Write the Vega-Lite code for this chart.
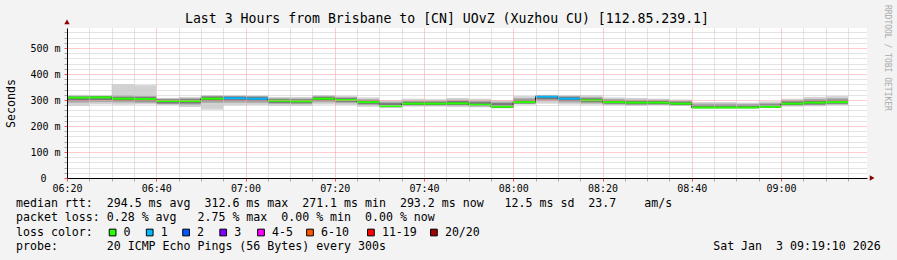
{
  "$schema": "https://vega.github.io/schema/vega-lite/v6.json",
  "width": 800,
  "height": 150,
  "autosize": {"type": "none"},
  "padding": {"left": 67, "top": 28, "right": 30, "bottom": 82},
  "background": "#f3f3f3",
  "config": {"view": {"fill": "#ffffff", "stroke": null}, "font": "DejaVu Sans Mono"},
  "resolve": {"scale": {"x": "independent", "y": "independent"}},
  "layer": [
    {
      "data": {
        "values": [
          {"s": "2026-01-03T06:20:00", "e": "2026-01-03T06:25:00", "med": 309, "loss": "0", "mn": 278, "mx": 320, "l2": 290, "h2": 316, "l3": 298, "h3": 313},
          {"s": "2026-01-03T06:25:00", "e": "2026-01-03T06:30:00", "med": 310, "loss": "0", "mn": 283, "mx": 318, "l2": 292, "h2": 316, "l3": 300, "h3": 314},
          {"s": "2026-01-03T06:30:00", "e": "2026-01-03T06:35:00", "med": 305, "loss": "0", "mn": 282, "mx": 361, "l2": 290, "h2": 318, "l3": 296, "h3": 312},
          {"s": "2026-01-03T06:35:00", "e": "2026-01-03T06:40:00", "med": 304, "loss": "0", "mn": 283, "mx": 357, "l2": 289, "h2": 316, "l3": 295, "h3": 311},
          {"s": "2026-01-03T06:40:00", "e": "2026-01-03T06:45:00", "med": 296, "loss": "0", "mn": 281, "mx": 308, "l2": 284, "h2": 305, "l3": 287, "h3": 302},
          {"s": "2026-01-03T06:45:00", "e": "2026-01-03T06:50:00", "med": 296, "loss": "0", "mn": 273, "mx": 312, "l2": 282, "h2": 307, "l3": 287, "h3": 303},
          {"s": "2026-01-03T06:50:00", "e": "2026-01-03T06:55:00", "med": 305, "loss": "0", "mn": 263, "mx": 319, "l2": 289, "h2": 316, "l3": 296, "h3": 313},
          {"s": "2026-01-03T06:55:00", "e": "2026-01-03T07:00:00", "med": 307, "loss": "1", "mn": 280, "mx": 318, "l2": 290, "h2": 316, "l3": 297, "h3": 313},
          {"s": "2026-01-03T07:00:00", "e": "2026-01-03T07:05:00", "med": 305, "loss": "1", "mn": 281, "mx": 317, "l2": 289, "h2": 315, "l3": 296, "h3": 312},
          {"s": "2026-01-03T07:05:00", "e": "2026-01-03T07:10:00", "med": 297, "loss": "0", "mn": 278, "mx": 312, "l2": 285, "h2": 307, "l3": 289, "h3": 303},
          {"s": "2026-01-03T07:10:00", "e": "2026-01-03T07:15:00", "med": 295, "loss": "0", "mn": 278, "mx": 312, "l2": 284, "h2": 306, "l3": 288, "h3": 302},
          {"s": "2026-01-03T07:15:00", "e": "2026-01-03T07:20:00", "med": 305, "loss": "0", "mn": 283, "mx": 318, "l2": 291, "h2": 316, "l3": 297, "h3": 312},
          {"s": "2026-01-03T07:20:00", "e": "2026-01-03T07:25:00", "med": 300, "loss": "0", "mn": 281, "mx": 316, "l2": 288, "h2": 311, "l3": 293, "h3": 307},
          {"s": "2026-01-03T07:25:00", "e": "2026-01-03T07:30:00", "med": 292, "loss": "0", "mn": 274, "mx": 310, "l2": 281, "h2": 303, "l3": 285, "h3": 299},
          {"s": "2026-01-03T07:30:00", "e": "2026-01-03T07:35:00", "med": 277, "loss": "0", "mn": 270, "mx": 300, "l2": 272, "h2": 293, "l3": 273, "h3": 288},
          {"s": "2026-01-03T07:35:00", "e": "2026-01-03T07:40:00", "med": 286, "loss": "0", "mn": 275, "mx": 305, "l2": 278, "h2": 297, "l3": 280, "h3": 293},
          {"s": "2026-01-03T07:40:00", "e": "2026-01-03T07:45:00", "med": 286, "loss": "0", "mn": 275, "mx": 303, "l2": 278, "h2": 297, "l3": 280, "h3": 293},
          {"s": "2026-01-03T07:45:00", "e": "2026-01-03T07:50:00", "med": 287, "loss": "0", "mn": 273, "mx": 308, "l2": 278, "h2": 301, "l3": 281, "h3": 296},
          {"s": "2026-01-03T07:50:00", "e": "2026-01-03T07:55:00", "med": 282, "loss": "0", "mn": 272, "mx": 305, "l2": 275, "h2": 297, "l3": 277, "h3": 292},
          {"s": "2026-01-03T07:55:00", "e": "2026-01-03T08:00:00", "med": 274, "loss": "0", "mn": 268, "mx": 300, "l2": 270, "h2": 293, "l3": 271, "h3": 288},
          {"s": "2026-01-03T08:00:00", "e": "2026-01-03T08:05:00", "med": 292, "loss": "0", "mn": 282, "mx": 315, "l2": 285, "h2": 307, "l3": 287, "h3": 301},
          {"s": "2026-01-03T08:05:00", "e": "2026-01-03T08:10:00", "med": 313, "loss": "1", "mn": 286, "mx": 320, "l2": 296, "h2": 319, "l3": 303, "h3": 317},
          {"s": "2026-01-03T08:10:00", "e": "2026-01-03T08:15:00", "med": 305, "loss": "1", "mn": 283, "mx": 318, "l2": 290, "h2": 315, "l3": 296, "h3": 312},
          {"s": "2026-01-03T08:15:00", "e": "2026-01-03T08:20:00", "med": 299, "loss": "0", "mn": 282, "mx": 318, "l2": 287, "h2": 311, "l3": 292, "h3": 306},
          {"s": "2026-01-03T08:20:00", "e": "2026-01-03T08:25:00", "med": 292, "loss": "0", "mn": 280, "mx": 310, "l2": 283, "h2": 304, "l3": 286, "h3": 299},
          {"s": "2026-01-03T08:25:00", "e": "2026-01-03T08:30:00", "med": 290, "loss": "0", "mn": 278, "mx": 308, "l2": 281, "h2": 301, "l3": 284, "h3": 297},
          {"s": "2026-01-03T08:30:00", "e": "2026-01-03T08:35:00", "med": 290, "loss": "0", "mn": 280, "mx": 305, "l2": 282, "h2": 301, "l3": 284, "h3": 297},
          {"s": "2026-01-03T08:35:00", "e": "2026-01-03T08:40:00", "med": 286, "loss": "0", "mn": 278, "mx": 302, "l2": 279, "h2": 297, "l3": 281, "h3": 293},
          {"s": "2026-01-03T08:40:00", "e": "2026-01-03T08:45:00", "med": 271, "loss": "0", "mn": 268, "mx": 292, "l2": 269, "h2": 286, "l3": 270, "h3": 281},
          {"s": "2026-01-03T08:45:00", "e": "2026-01-03T08:50:00", "med": 271, "loss": "0", "mn": 268, "mx": 292, "l2": 269, "h2": 286, "l3": 270, "h3": 281},
          {"s": "2026-01-03T08:50:00", "e": "2026-01-03T08:55:00", "med": 271, "loss": "0", "mn": 268, "mx": 290, "l2": 269, "h2": 285, "l3": 270, "h3": 280},
          {"s": "2026-01-03T08:55:00", "e": "2026-01-03T09:00:00", "med": 274, "loss": "0", "mn": 270, "mx": 295, "l2": 271, "h2": 288, "l3": 272, "h3": 283},
          {"s": "2026-01-03T09:00:00", "e": "2026-01-03T09:05:00", "med": 286, "loss": "0", "mn": 275, "mx": 305, "l2": 278, "h2": 299, "l3": 280, "h3": 294},
          {"s": "2026-01-03T09:05:00", "e": "2026-01-03T09:10:00", "med": 290, "loss": "0", "mn": 276, "mx": 312, "l2": 280, "h2": 304, "l3": 283, "h3": 299},
          {"s": "2026-01-03T09:10:00", "e": "2026-01-03T09:15:00", "med": 292, "loss": "0", "mn": 280, "mx": 315, "l2": 283, "h2": 307, "l3": 286, "h3": 301}
        ]
      },
      "layer": [
        {
          "mark": {"type": "rect", "fill": "#d2d2d2"},
          "encoding": {
            "x": {
              "field": "s", "type": "temporal",
              "scale": {"domain": [{"year": 2026, "month": 1, "date": 3, "hours": 6, "minutes": 20}, {"year": 2026, "month": 1, "date": 3, "hours": 9, "minutes": 19, "seconds": 16}], "nice": false},
              "axis": {
                "title": null,
                "tickCount": 36,
                "labelExpr": "minutes(datum.value) % 20 === 0 ? timeFormat(datum.value, '%H:%M') : ''",
                "labelFont": "DejaVu Sans Mono", "labelFontSize": 10, "labelColor": "#000000",
                "labelPadding": 2, "labelOverlap": false, "labelFlush": false, "labelAngle": 0,
                "grid": true,
                "gridColor": {"condition": {"test": "minutes(datum.value) % 20 === 0", "value": "#ff9a9a"}, "value": "#c8c8c8"},
                "gridDash": [1, 1], "gridWidth": 1,
                "ticks": true, "tickSize": 3,
                "tickColor": {"condition": {"test": "minutes(datum.value) % 20 === 0", "value": "#ff5050"}, "value": "#a8a8a8"},
                "domainColor": "#000000", "zindex": 1
              }
            },
            "x2": {"field": "e"},
            "y": {
              "field": "mn", "type": "quantitative",
              "scale": {"domain": [0, 577], "nice": false, "zero": true},
              "axis": {
                "title": "Seconds", "titleFont": "DejaVu Sans Mono", "titleFontSize": 11.6, "titleFontWeight": "normal", "titleColor": "#000000", "titlePadding": 13,
                "tickCount": 29,
                "labelExpr": "round(datum.value) == 0 ? '0\u2800\u2800' : (round(datum.value) % 100 == 0 ? format(datum.value, 'd') + ' m' : '')",
                "labelFont": "DejaVu Sans Mono", "labelFontSize": 10, "labelColor": "#000000",
                "labelPadding": 4, "labelOverlap": false, "labelFlush": false,
                "grid": true,
                "gridColor": {"condition": {"test": "round(datum.value) % 100 == 0", "value": "#ff9a9a"}, "value": "#c8c8c8"},
                "gridDash": [1, 1], "gridWidth": 1,
                "tickSize": 3,
                "tickColor": {"condition": {"test": "round(datum.value) % 100 == 0", "value": "#ff5050"}, "value": "#a8a8a8"},
                "domainColor": "#000000", "zindex": 1
              }
            },
            "y2": {"field": "mx"}
          }
        },
        {
          "mark": {"type": "rect", "fill": "#a9a9a9"},
          "encoding": {
            "x": {"field": "s", "type": "temporal"},
            "x2": {"field": "e"},
            "y": {"field": "l2", "type": "quantitative"},
            "y2": {"field": "h2"}
          }
        },
        {
          "mark": {"type": "rect", "fill": "#787878"},
          "encoding": {
            "x": {"field": "s", "type": "temporal"},
            "x2": {"field": "e"},
            "y": {"field": "l3", "type": "quantitative"},
            "y2": {"field": "h3"}
          }
        },
        {
          "mark": {"type": "line", "interpolate": "step-after", "color": "#101010", "strokeWidth": 1},
          "encoding": {
            "x": {"field": "s", "type": "temporal"},
            "y": {"field": "med", "type": "quantitative"}
          }
        },
        {
          "mark": {"type": "rule", "strokeWidth": 2},
          "encoding": {
            "x": {"field": "s", "type": "temporal"},
            "x2": {"field": "e"},
            "y": {"field": "med", "type": "quantitative"},
            "color": {
              "field": "loss", "type": "nominal",
              "scale": {"domain": ["0", "1", "2", "3", "4-5", "6-10", "11-19", "20/20"], "range": ["#26ff00", "#00b8ff", "#0059ff", "#7e00ff", "#ff00ff", "#ff5500", "#ff0000", "#a10000"]},
              "legend": null
            }
          }
        }
      ]
    },
    {
      "layer": [
        {
          "data": {
            "values": [
              {"line": -12.07, "col": 61.57, "text": "Last 3 Hours from Brisbane to [CN] UOvZ (Xuzhou CU) [112.85.239.1]"}
            ]
          },
          "mark": {"type": "text", "align": "center", "baseline": "middle", "font": "DejaVu Sans Mono", "fontSize": 13.2, "color": "#000000"},
          "encoding": {
            "x": {"field": "col", "type": "quantitative", "scale": {"domain": [7.2857, 121.5714], "nice": false, "zero": false}, "axis": null},
            "y": {"field": "line", "type": "quantitative", "scale": {"domain": [-11.433, -0.847], "nice": false, "zero": false, "reverse": true}, "axis": null},
            "text": {"field": "text"}
          }
        },
        {
          "data": {
            "values": [
              {"line": 1, "col": 0, "text": "median\u00a0rtt:\u00a0\u00a0294.5\u00a0ms\u00a0avg\u00a0\u00a0312.6\u00a0ms\u00a0max\u00a0\u00a0271.1\u00a0ms\u00a0min\u00a0\u00a0293.2\u00a0ms\u00a0now\u00a0\u00a0\u00a012.5\u00a0ms\u00a0sd\u00a0\u00a023.7\u00a0\u00a0\u00a0\u00a0am/s"},
              {"line": 2, "col": 0, "text": "packet\u00a0loss:\u00a00.28\u00a0%\u00a0avg\u00a0\u00a0\u00a02.75\u00a0%\u00a0max\u00a0\u00a00.00\u00a0%\u00a0min\u00a0\u00a00.00\u00a0%\u00a0now"},
              {"line": 3, "col": 0, "text": "loss\u00a0color:"},
              {"line": 4, "col": 0, "text": "probe:\u00a0\u00a0\u00a0\u00a0\u00a0\u00a0\u00a020\u00a0ICMP\u00a0Echo\u00a0Pings\u00a0(56\u00a0Bytes)\u00a0every\u00a0300s"},
              {"line": 4, "col": 99.6, "text": "Sat\u00a0Jan\u00a0\u00a03\u00a009:19:10\u00a02026"}
            ]
          },
          "mark": {"type": "text", "align": "left", "baseline": "middle", "font": "DejaVu Sans Mono", "fontSize": 11.6, "color": "#000000"},
          "encoding": {
            "x": {"field": "col", "type": "quantitative", "scale": {"domain": [7.2857, 121.5714], "nice": false, "zero": false}, "axis": null},
            "y": {"field": "line", "type": "quantitative", "scale": {"domain": [-11.433, -0.847], "nice": false, "zero": false, "reverse": true}, "axis": null},
            "text": {"field": "text"}
          }
        },
        {
          "data": {
            "values": [
              {"loss": "0", "col": 13.8, "line": 3},
              {"loss": "1", "col": 19.1, "line": 3},
              {"loss": "2", "col": 24.3, "line": 3},
              {"loss": "3", "col": 29.6, "line": 3},
              {"loss": "4-5", "col": 35.0, "line": 3},
              {"loss": "6-10", "col": 42.0, "line": 3},
              {"loss": "11-19", "col": 50.7, "line": 3},
              {"loss": "20/20", "col": 59.7, "line": 3}
            ]
          },
          "layer": [
            {
              "mark": {"type": "point", "shape": "square", "filled": true, "stroke": "#000000", "strokeWidth": 1, "size": 45, "opacity": 1},
              "encoding": {
                "x": {"field": "col", "type": "quantitative", "scale": {"domain": [7.2857, 121.5714], "nice": false, "zero": false}, "axis": null},
                "y": {"field": "line", "type": "quantitative", "scale": {"domain": [-11.433, -0.847], "nice": false, "zero": false, "reverse": true}, "axis": null},
                "color": {
                  "field": "loss", "type": "nominal",
                  "scale": {"domain": ["0", "1", "2", "3", "4-5", "6-10", "11-19", "20/20"], "range": ["#26ff00", "#00b8ff", "#0059ff", "#7e00ff", "#ff00ff", "#ff5500", "#ff0000", "#a10000"]},
                  "legend": null
                }
              }
            },
            {
              "mark": {"type": "text", "align": "left", "baseline": "middle", "dx": 11, "font": "DejaVu Sans Mono", "fontSize": 11.6, "color": "#000000"},
              "encoding": {
                "x": {"field": "col", "type": "quantitative", "scale": {"domain": [7.2857, 121.5714], "nice": false, "zero": false}, "axis": null},
                "y": {"field": "line", "type": "quantitative", "scale": {"domain": [-11.433, -0.847], "nice": false, "zero": false, "reverse": true}, "axis": null},
                "text": {"field": "loss"}
              }
            }
          ]
        },
        {
          "data": {"values": [{"line": -13.06, "col": 124.4, "text": "RRDTOOL\u00a0/\u00a0TOBI\u00a0OETIKER"}]},
          "mark": {"type": "text", "align": "left", "baseline": "middle", "angle": 90, "font": "DejaVu Sans Mono", "fontSize": 8, "color": "#aaaaaa"},
          "encoding": {
            "x": {"field": "col", "type": "quantitative", "scale": {"domain": [7.2857, 121.5714], "nice": false, "zero": false}, "axis": null},
            "y": {"field": "line", "type": "quantitative", "scale": {"domain": [-11.433, -0.847], "nice": false, "zero": false, "reverse": true}, "axis": null},
            "text": {"field": "text"}
          }
        },
        {
          "data": {"values": [{"line": -11.86, "col": 7.2857, "dir": "triangle-up"}, {"line": -0.847, "col": 122.3, "dir": "triangle-right"}]},
          "mark": {"type": "point", "filled": true, "color": "#8b0000", "size": 30, "opacity": 1},
          "encoding": {
            "x": {"field": "col", "type": "quantitative", "scale": {"domain": [7.2857, 121.5714], "nice": false, "zero": false}, "axis": null},
            "y": {"field": "line", "type": "quantitative", "scale": {"domain": [-11.433, -0.847], "nice": false, "zero": false, "reverse": true}, "axis": null},
            "shape": {"field": "dir", "type": "nominal", "scale": {"domain": ["triangle-up", "triangle-right"], "range": ["triangle-up", "triangle-right"]}, "legend": null}
          }
        }
      ]
    }
  ]
}
